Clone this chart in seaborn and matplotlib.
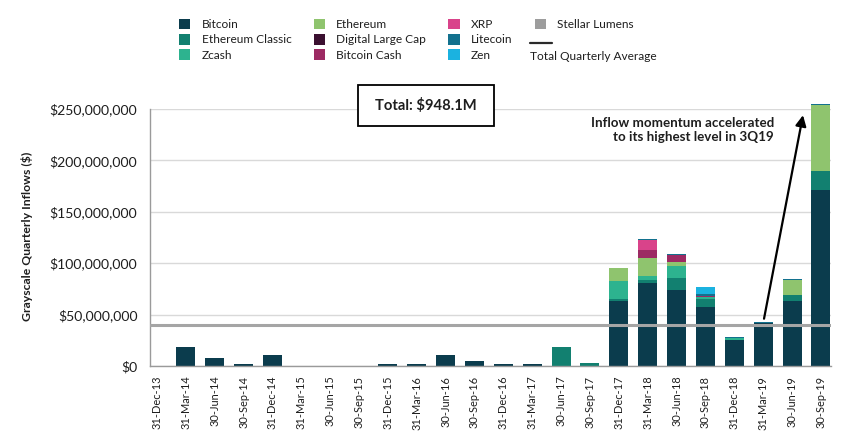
import matplotlib
matplotlib.use("Agg")
import matplotlib.pyplot as plt
import seaborn as sns
import numpy as np
from matplotlib.patches import Patch, Rectangle
from matplotlib.lines import Line2D
from matplotlib.ticker import FuncFormatter, MultipleLocator

# ---------------- data (values in $ millions) ----------------
quarters = ["31-Dec-13", "31-Mar-14", "30-Jun-14", "30-Sep-14", "31-Dec-14", "31-Mar-15",
            "30-Jun-15", "30-Sep-15", "31-Dec-15", "31-Mar-16", "30-Jun-16", "30-Sep-16",
            "31-Dec-16", "31-Mar-17", "30-Jun-17", "30-Sep-17", "31-Dec-17", "31-Mar-18",
            "30-Jun-18", "30-Sep-18", "31-Dec-18", "31-Mar-19", "30-Jun-19", "30-Sep-19"]

bitcoin = [0, 18.8, 7.8, 2.0, 10.7, 0, 0, 0, 2.0, 2.0, 10.7, 4.9,
           2.0, 2.0, 0, 0, 63.2, 80.7, 73.9, 57.4, 25.6, 41.5, 63.2, 171.5]
ethereum_classic = [0, 0, 0, 0, 0, 0, 0, 0, 0, 0, 0, 0,
                    0, 0, 18.8, 2.9, 2.0, 3.0, 11.7, 8.1, 0, 0, 5.9, 18.5]
zcash = [0, 0, 0, 0, 0, 0, 0, 0, 0, 0, 0, 0,
         0, 0, 0, 0, 17.5, 3.8, 12.0, 1.9, 1.6, 0, 0, 0]
ethereum = [0, 0, 0, 0, 0, 0, 0, 0, 0, 0, 0, 0,
            0, 0, 0, 0, 12.6, 17.5, 3.9, 0, 0, 0, 14.9, 63.8]
digital_large_cap = [0] * 24
bitcoin_cash = [0, 0, 0, 0, 0, 0, 0, 0, 0, 0, 0, 0,
                0, 0, 0, 0, 0, 7.8, 6.5, 1.1, 0, 0, 0, 0]
xrp = [0, 0, 0, 0, 0, 0, 0, 0, 0, 0, 0, 0,
       0, 0, 0, 0, 0, 9.8, 0, 0, 0, 0, 0, 0]
litecoin = [0, 0, 0, 0, 0, 0, 0, 0, 0, 0, 0, 0,
            0, 0, 0, 0, 0, 0.9, 1.0, 1.2, 1.0, 1.3, 0.6, 0.8]
zen = [0, 0, 0, 0, 0, 0, 0, 0, 0, 0, 0, 0,
       0, 0, 0, 0, 0, 0, 0, 7.1, 0, 0, 0, 0]
stellar_lumens = [0] * 24

series_names = ["Bitcoin", "Ethereum Classic", "Zcash", "Ethereum", "Digital Large Cap",
                "Bitcoin Cash", "XRP", "Litecoin", "Zen", "Stellar Lumens"]
series_values = [bitcoin, ethereum_classic, zcash, ethereum, digital_large_cap,
                 bitcoin_cash, xrp, litecoin, zen, stellar_lumens]
series_colors = ["#0b3c4d", "#128070", "#2db38f", "#8fc46e", "#3b1030",
                 "#9c2a63", "#d9438a", "#13718e", "#1bb2e0", "#9d9d9d"]

average_inflow = 39.5          # $M, total quarterly average
total_text = "Total: $948.1M"
note_text = "Inflow momentum accelerated\nto its highest level in 3Q19"
y_label = "Grayscale Quarterly Inflows ($)"

M = 1e6
W, H = 851, 448

sns.set_theme(style="white")
plt.rcParams["font.family"] = ["Lato", "DejaVu Sans"]
TXT = "#1e1e1e"

fig = plt.figure(figsize=(W / 100, H / 100), dpi=100)
fig.patch.set_facecolor("white")
ax = fig.add_axes([150 / W, 1 - 366 / H, (831 - 150) / W, (366 - 109) / H])

bottom = np.zeros(len(quarters))
for name, vals, col in zip(series_names, series_values, series_colors):
    v = np.array(vals, dtype=float) * M
    sns.barplot(x=quarters, y=v, order=quarters, bottom=bottom.copy(), color=col,
                saturation=1, width=0.66, errorbar=None, linewidth=0, ax=ax,
                zorder=2, clip_on=False)
    bottom += v

ax.axhline(average_inflow * M, color="#a5a5a5", lw=2.2, zorder=3)

ax.set_xlim(-0.24, 23.35)
ax.set_ylim(0, 250 * M)
ax.yaxis.set_major_locator(MultipleLocator(50 * M))
ax.yaxis.set_major_formatter(FuncFormatter(lambda v, p: "${:,.0f}".format(v)))
ax.yaxis.grid(True, color="#d9d9d9", lw=1)
ax.xaxis.grid(False)
ax.set_axisbelow(True)
for s in ["top", "right"]:
    ax.spines[s].set_visible(False)
for s in ["left", "bottom"]:
    ax.spines[s].set_color("#9a9a9a")
    ax.spines[s].set_linewidth(1)
ax.tick_params(axis="y", length=0, pad=9, labelsize=10.1, labelcolor=TXT)
ax.tick_params(axis="x", length=0, pad=7, labelsize=7.9, labelcolor=TXT)
ax.set_xticks(range(len(quarters)))
ax.set_xticklabels(quarters, rotation=90)
ax.set_xlabel("")
ax.set_ylabel("")

fig.text(27 / W, 1 - 236 / H, y_label, rotation=90, ha="center", va="center",
         fontsize=8.8, fontweight="bold", color=TXT)

# total box
fig.patches.append(Rectangle((358 / W, 1 - 126 / H), 136 / W, 41 / H,
                             transform=fig.transFigure, facecolor="white",
                             edgecolor="black", lw=1.3, zorder=5))
fig.text(426 / W, 1 - 106 / H, total_text, ha="center", va="center",
         fontsize=10.6, fontweight="bold", color=TXT, zorder=6)

# annotation
fig.text(774 / W, 1 - 117 / H, note_text, ha="right", va="top", multialignment="right",
         fontsize=9.6, fontweight="bold", color=TXT, linespacing=1.2)
ax.annotate("", xy=(22.38, 244 * M), xytext=(21.03, 46 * M),
            arrowprops=dict(arrowstyle="-|>", color="black", lw=1.6,
                            mutation_scale=16, shrinkA=0, shrinkB=0),
            annotation_clip=False, zorder=6)

# legend
handles = [Patch(facecolor=c, edgecolor="none") for c in series_colors]
labels = list(series_names)
handles += [Patch(facecolor="none", edgecolor="none")] * 2
labels += [" ", " "]
fig.legend(handles, labels, loc="upper left", bbox_to_anchor=(179 / W, 1 - 19 / H),
           ncol=4, frameon=False, fontsize=8.6, handlelength=0.95, handleheight=0.95,
           handletextpad=0.95, columnspacing=1.85, labelspacing=0.33,
           borderpad=0, borderaxespad=0, labelcolor=TXT)
fig.lines.append(Line2D([530 / W, 552 / W], [1 - 43 / H, 1 - 43 / H],
                        transform=fig.transFigure, color="#2a2a2a", lw=1.6))
fig.text(530 / W, 1 - 56 / H, "Total Quarterly Average", ha="left", va="center",
         fontsize=8.6, color=TXT)

fig.savefig("out.png", dpi=100, facecolor="white")
